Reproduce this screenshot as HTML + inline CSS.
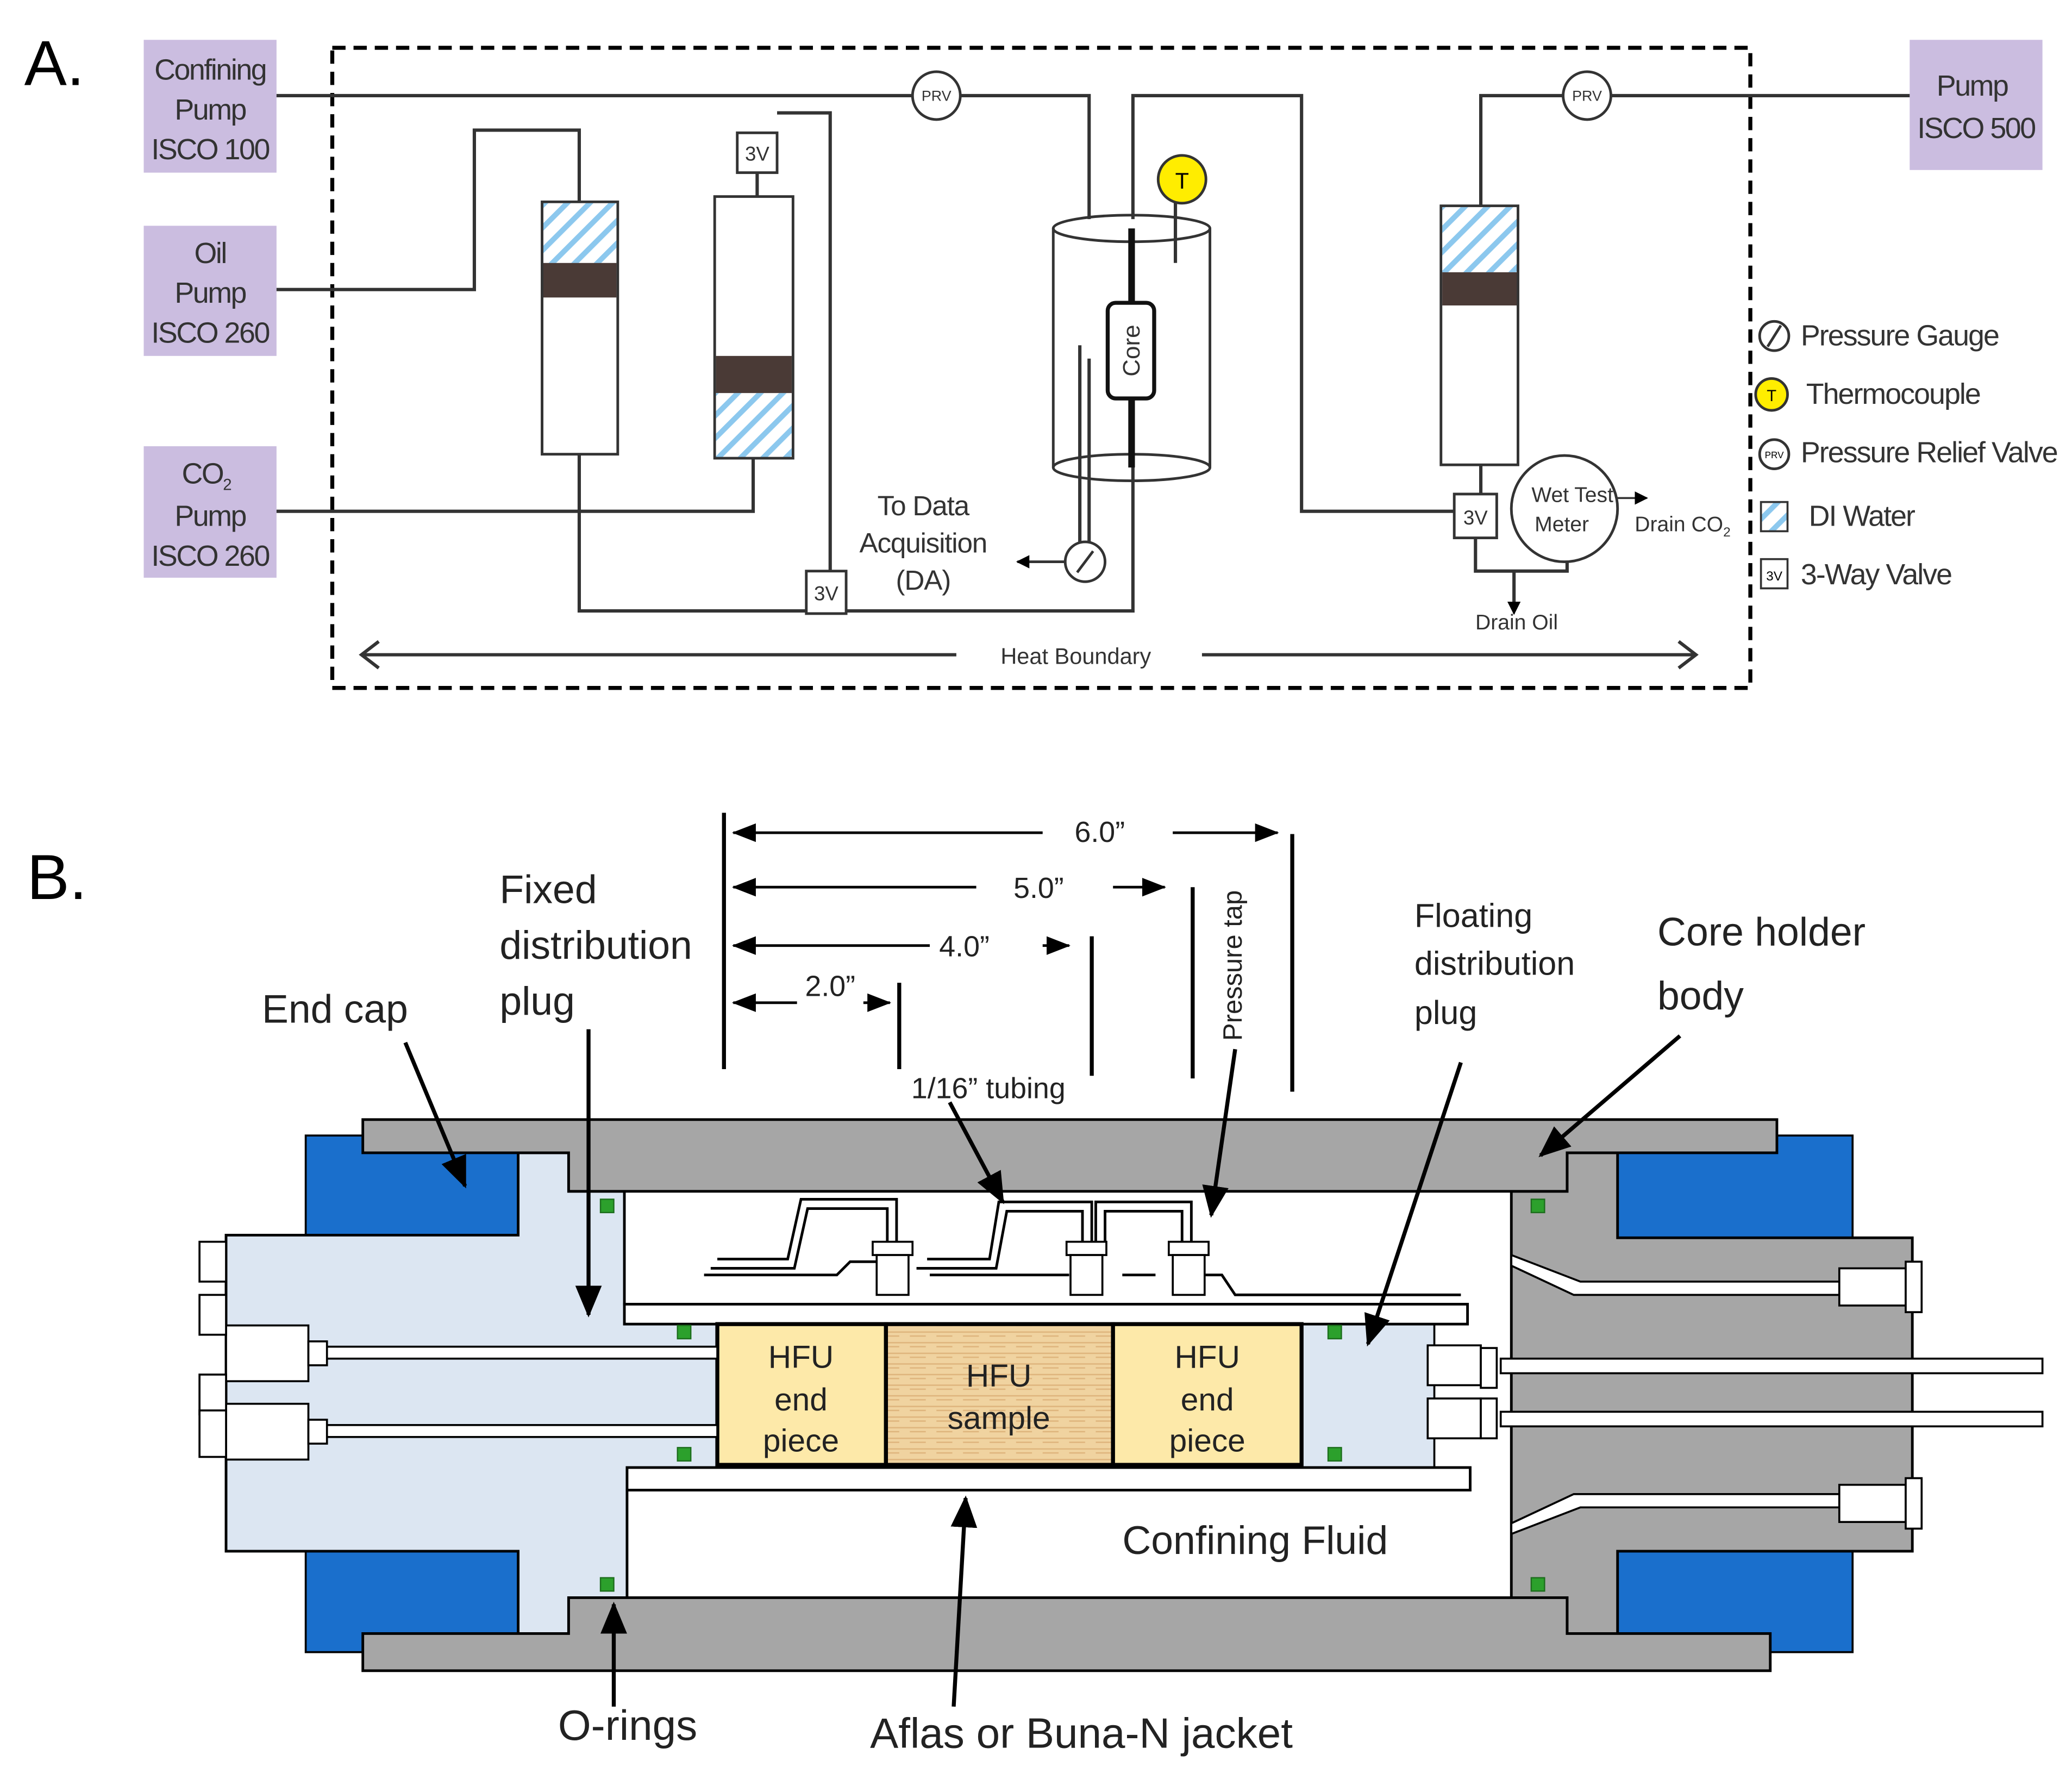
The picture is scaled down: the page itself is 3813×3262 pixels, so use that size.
<!DOCTYPE html>
<html><head><meta charset="utf-8"><style>
html,body{margin:0;padding:0;background:#fff;}
svg{display:block;}
text{font-family:"Liberation Sans",sans-serif;}
</style></head><body>
<svg width="3813" height="3262" viewBox="0 0 1560 1335" xmlns="http://www.w3.org/2000/svg">
<defs>
<pattern id="hat" width="12" height="12" patternUnits="userSpaceOnUse" patternTransform="rotate(-45)">
<rect width="12" height="12" fill="#fff"/><rect width="12" height="4" fill="#8cc8ee"/></pattern>
<pattern id="wood" width="20" height="8" patternUnits="userSpaceOnUse">
<rect width="20" height="8" fill="#f0d3a0"/><path d="M0 3h20M5 6h12" stroke="#deb47c" stroke-width="1"/></pattern>
<marker id="ah" markerWidth="10" markerHeight="10" refX="9" refY="5" orient="auto" markerUnits="userSpaceOnUse">
<path d="M0,0 L10,5 L0,10z" fill="#000"/></marker>
<marker id="ab" markerWidth="24" markerHeight="20" refX="22" refY="10" orient="auto" markerUnits="userSpaceOnUse">
<path d="M0,0 L24,10 L0,20z" fill="#000"/></marker>
<marker id="ab2" markerWidth="18" markerHeight="14" refX="17" refY="7" orient="auto" markerUnits="userSpaceOnUse">
<path d="M0,0 L18,7 L0,14z" fill="#000"/></marker>
</defs>

<!-- ===== A ===== -->
<text x="18" y="64" font-size="48">A.</text>
<g fill="#cbbde0">
<rect x="108" y="30" width="100" height="100"/><rect x="108" y="170" width="100" height="98"/>
<rect x="108" y="336" width="100" height="99"/><rect x="1438" y="30" width="100" height="98"/>
</g>
<g font-size="22" text-anchor="middle" fill="#333" letter-spacing="-1">
<text x="158" y="60">Confining</text><text x="158" y="90">Pump</text><text x="158" y="120">ISCO 100</text>
<text x="158" y="198">Oil</text><text x="158" y="228">Pump</text><text x="158" y="258">ISCO 260</text>
<text x="155" y="364">CO<tspan font-size="12" dy="5">2</tspan></text><text x="158" y="396">Pump</text><text x="158" y="426">ISCO 260</text>
<text x="1485" y="72">Pump</text><text x="1488" y="104">ISCO 500</text>
</g>
<rect x="250" y="36" width="1068" height="482" fill="none" stroke="#000" stroke-width="3" stroke-dasharray="10,6"/>
<g fill="none" stroke="#333" stroke-width="2.5">
<path d="M208 72H820V165"/>
<path d="M853 165V72H980V385H1095"/>
<path d="M1438 72H1115V155"/>
<path d="M208 218H357V98H436V152"/>
<path d="M436 342V460H853V305"/>
<path d="M570 130V148"/>
<path d="M585 85H625V430"/>
<path d="M208 385H567V345"/>
<path d="M885 150V198"/>
<path d="M813 260V408M820 270V408"/>
<path d="M1115 350V372M1111 405V430H1180V422"/>
<path d="M1140 430V455"/>
</g>
<!-- PRVs -->
<g fill="#fff" stroke="#333" stroke-width="2">
<circle cx="705" cy="72" r="18"/><circle cx="1195" cy="72" r="18"/></g>
<g font-size="11" text-anchor="middle" fill="#333"><text x="705" y="76">PRV</text><text x="1195" y="76">PRV</text></g>
<!-- cylinders -->
<rect x="408" y="152" width="57" height="190" fill="#fff" stroke="#333" stroke-width="2"/>
<rect x="409" y="153" width="55" height="45" fill="url(#hat)"/>
<rect x="409" y="198" width="55" height="26" fill="#4a3a36"/>
<rect x="538" y="148" width="59" height="197" fill="#fff" stroke="#333" stroke-width="2"/>
<rect x="539" y="268" width="57" height="28" fill="#4a3a36"/>
<rect x="539" y="296" width="57" height="48" fill="url(#hat)"/>
<rect x="1085" y="155" width="58" height="195" fill="#fff" stroke="#333" stroke-width="2"/>
<rect x="1086" y="156" width="56" height="49" fill="url(#hat)"/>
<rect x="1086" y="205" width="56" height="25" fill="#4a3a36"/>
<!-- 3V boxes -->
<g fill="#fff" stroke="#333" stroke-width="2">
<rect x="555" y="100" width="30" height="30"/><rect x="607" y="430" width="30" height="32"/><rect x="1095" y="372" width="32" height="33"/></g>
<g font-size="15" text-anchor="middle" fill="#333"><text x="570" y="121">3V</text><text x="622" y="452">3V</text><text x="1111" y="395">3V</text></g>
<!-- vessel -->
<g fill="none" stroke="#333" stroke-width="2">
<ellipse cx="852" cy="172" rx="59" ry="10"/><ellipse cx="852" cy="352" rx="59" ry="10"/>
<path d="M793 172V352M911 172V352"/></g>
<path d="M852 172V228M852 300V352" stroke="#111" stroke-width="5"/>
<rect x="834" y="228" width="35" height="72" rx="6" fill="#fff" stroke="#111" stroke-width="3"/>
<text transform="translate(858 264) rotate(-90)" font-size="18" text-anchor="middle" fill="#333">Core</text>
<circle cx="890" cy="135" r="18" fill="#ffed00" stroke="#333" stroke-width="2"/>
<text x="890" y="142" font-size="17" text-anchor="middle">T</text>
<circle cx="817" cy="423" r="15" fill="#fff" stroke="#333" stroke-width="2"/>
<path d="M811 431L823 415" stroke="#333" stroke-width="2"/>
<path d="M802 423H766" stroke="#333" stroke-width="2" marker-end="url(#ah)"/>
<g font-size="21" text-anchor="middle" fill="#333" letter-spacing="-0.5"><text x="695" y="388">To Data</text><text x="695" y="416">Acquisition</text><text x="695" y="444">(DA)</text></g>
<circle cx="1178" cy="383" r="40" fill="#fff" stroke="#333" stroke-width="2"/>
<g font-size="16" text-anchor="middle" fill="#333"><text x="1184" y="378">Wet Test</text><text x="1176" y="400">Meter</text>
<text x="1267" y="400">Drain CO<tspan font-size="10" dy="4">2</tspan></text><text x="1142" y="474">Drain Oil</text></g>
<path d="M1218 375H1240" stroke="#333" stroke-width="1.5" marker-end="url(#ah)"/>
<path d="M1140 440V462" stroke="#333" stroke-width="1.5" marker-end="url(#ah)"/>
<path d="M720 493H272M905 493H1277" stroke="#333" stroke-width="2.5" fill="none"/>
<path d="M285 483L272 493L285 503M1264 483L1277 493L1264 503" stroke="#333" stroke-width="2.5" fill="none"/>
<text x="810" y="500" font-size="17" text-anchor="middle" fill="#333">Heat Boundary</text>
<!-- legend -->
<g fill="#fff" stroke="#333" stroke-width="2">
<circle cx="1336" cy="253" r="11"/><circle cx="1336" cy="342" r="11"/></g>
<path d="M1331 261L1341 245" stroke="#333" stroke-width="2"/>
<circle cx="1334" cy="297" r="12" fill="#ffed00" stroke="#333" stroke-width="2"/>
<text x="1334" y="302" font-size="12" text-anchor="middle">T</text>
<text x="1336" y="345" font-size="7" text-anchor="middle">PRV</text>
<rect x="1326" y="378" width="20" height="22" fill="url(#hat)" stroke="#333" stroke-width="1.5"/>
<rect x="1326" y="421" width="20" height="22" fill="#fff" stroke="#333" stroke-width="1.5"/>
<text x="1336" y="437" font-size="10" text-anchor="middle">3V</text>
<g font-size="22" fill="#333" letter-spacing="-0.8">
<text x="1356" y="260">Pressure Gauge</text><text x="1360" y="304">Thermocouple</text>
<text x="1356" y="348">Pressure Relief Valve</text><text x="1362" y="396">DI Water</text><text x="1356" y="440">3-Way Valve</text></g>

<!-- ===== B ===== -->
<text x="20" y="677" font-size="48">B.</text>
<g stroke="#000" stroke-width="3" fill="none">
<path d="M545 612V805M677 740V805M822 705V810M898 668V812M973 628V822"/>
</g>
<g stroke="#000" stroke-width="2" fill="none">
<path d="M785 627H552" marker-end="url(#ab2)"/><path d="M883 627H962" marker-end="url(#ab2)"/>
<path d="M735 668H552" marker-end="url(#ab2)"/><path d="M838 668H877" marker-end="url(#ab2)"/>
<path d="M700 712H552" marker-end="url(#ab2)"/><path d="M785 712H805" marker-end="url(#ab2)"/>
<path d="M600 755H552" marker-end="url(#ab2)"/><path d="M650 755H670" marker-end="url(#ab2)"/>
</g>
<g font-size="22" text-anchor="middle" fill="#222">
<text x="828" y="634">6.0”</text><text x="782" y="676">5.0”</text><text x="726" y="720">4.0”</text><text x="625" y="750">2.0”</text></g>
<text transform="translate(935 727) rotate(-90)" font-size="20" text-anchor="middle" fill="#222">Pressure tap</text>
<g font-size="30" fill="#222">
<text x="376" y="680">Fixed</text><text x="376" y="722">distribution</text><text x="376" y="764">plug</text>
<text x="197" y="770">End cap</text>
<text x="1248" y="712">Core holder</text><text x="1248" y="760">body</text>
<text x="845" y="1170">Confining Fluid</text>
<text x="420" y="1310" font-size="32">O-rings</text>
<text x="655" y="1316" font-size="32">Aflas or Buna-N jacket</text></g>
<g font-size="25" fill="#222"><text x="1065" y="698">Floating</text><text x="1065" y="734">distribution</text><text x="1065" y="771">plug</text>
<text x="686" y="827" font-size="22">1/16” tubing</text></g>

<!-- blue caps -->
<g fill="#1a6fcc" stroke="#000" stroke-width="1.5">
<rect x="230" y="855" width="160" height="77"/><rect x="230" y="1168" width="160" height="76"/>
<rect x="1218" y="855" width="177" height="77"/><rect x="1218" y="1168" width="177" height="76"/></g>
<!-- left plug -->
<polygon points="390,868 428,868 428,897 470,897 470,982 540,982 540,1122 472,1122 472,1203 428,1203 428,1230 390,1230 390,1168 170,1168 170,930 390,930" fill="#dce6f2" stroke="#000" stroke-width="2"/>
<!-- right plug -->
<polygon points="1138,897 1180,897 1180,868 1218,868 1218,932 1440,932 1440,1168 1218,1168 1218,1230 1180,1230 1180,1203 1138,1203" fill="#a6a6a6" stroke="#000" stroke-width="2"/>
<!-- body -->
<polygon points="273,843 1338,843 1338,868 1180,868 1180,897 428,897 428,868 273,868" fill="#a6a6a6" stroke="#000" stroke-width="2"/>
<polygon points="428,1203 1180,1203 1180,1230 1333,1230 1333,1258 273,1258 273,1230 428,1230" fill="#a6a6a6" stroke="#000" stroke-width="2"/>
<rect x="980" y="997" width="100" height="108" fill="#dce6f2" stroke="#000" stroke-width="1.5"/>
<!-- jacket -->
<rect x="470" y="982" width="635" height="15" fill="#fff" stroke="#000" stroke-width="2"/>
<rect x="472" y="1105" width="635" height="17" fill="#fff" stroke="#000" stroke-width="2"/>
<!-- core -->
<rect x="540" y="997" width="127" height="106" fill="#fde9a9" stroke="#000" stroke-width="3"/>
<rect x="667" y="997" width="171" height="106" fill="url(#wood)" stroke="#000" stroke-width="3"/>
<rect x="838" y="997" width="142" height="106" fill="#fde9a9" stroke="#000" stroke-width="3"/>
<g font-size="24" text-anchor="middle" fill="#222">
<text x="603" y="1030">HFU</text><text x="603" y="1062">end</text><text x="603" y="1093">piece</text>
<text x="752" y="1044">HFU</text><text x="752" y="1076">sample</text>
<text x="909" y="1030">HFU</text><text x="909" y="1062">end</text><text x="909" y="1093">piece</text></g>
<!-- tubes left -->
<g fill="#fff" stroke="#000" stroke-width="1.5">
<rect x="240" y="1014" width="300" height="9"/><rect x="240" y="1073" width="300" height="9"/>
<rect x="170" y="998" width="62" height="42"/><rect x="170" y="1057" width="62" height="42"/>
<rect x="232" y="1010" width="14" height="18"/><rect x="232" y="1069" width="14" height="18"/>
<rect x="150" y="935" width="20" height="30"/><rect x="150" y="975" width="20" height="30"/><rect x="150" y="1035" width="20" height="30"/><rect x="150" y="1062" width="20" height="35"/>
<!-- right tubes -->
<rect x="1130" y="1023" width="408" height="11"/><rect x="1130" y="1063" width="408" height="11"/>
<rect x="1075" y="1013" width="40" height="30"/><rect x="1075" y="1053" width="40" height="30"/>
<rect x="1115" y="1015" width="12" height="30"/><rect x="1115" y="1053" width="12" height="30"/>
<polygon points="1138,945 1138,953 1185,975 1385,975 1385,965 1190,965"/>
<polygon points="1138,1155 1138,1147 1185,1125 1385,1125 1385,1135 1190,1135"/>
<rect x="1385" y="955" width="50" height="28"/><rect x="1385" y="1118" width="50" height="28"/>
<rect x="1435" y="950" width="12" height="38"/><rect x="1435" y="1113" width="12" height="38"/>
</g>
<!-- pressure tap tubing -->
<g fill="none" stroke="#000" stroke-width="2">
<path d="M535 955H598L608 910H668V935"/><path d="M540 948H593L603 903H675V935"/>
<path d="M690 955H750L758 912H815V935"/><path d="M698 948H745L752 905H822V935"/>
<path d="M832 935V912H890V935"/><path d="M825 935V905H897V935"/>
<path d="M530 960H630L640 950H660M700 960H790M790 960H805M845 960H870M905 960H920L930 975H1100"/>
</g>
<g fill="#fff" stroke="#000" stroke-width="1.5">
<rect x="657" y="935" width="30" height="10"/><rect x="660" y="945" width="24" height="30"/>
<rect x="803" y="935" width="30" height="10"/><rect x="806" y="945" width="24" height="30"/>
<rect x="880" y="935" width="30" height="10"/><rect x="883" y="945" width="24" height="30"/></g>
<!-- o-rings -->
<g fill="#2ca02c" stroke="#1d6e1d" stroke-width="1">
<rect x="452" y="903" width="10" height="10"/><rect x="510" y="998" width="10" height="10"/><rect x="510" y="1090" width="10" height="10"/><rect x="452" y="1188" width="10" height="10"/>
<rect x="1000" y="998" width="10" height="10"/><rect x="1000" y="1090" width="10" height="10"/><rect x="1153" y="903" width="10" height="10"/><rect x="1153" y="1188" width="10" height="10"/></g>
<!-- callout arrows -->
<g stroke="#000" stroke-width="3" fill="none">
<path d="M305 785L350 893" marker-end="url(#ab)"/>
<path d="M443 775V990" marker-end="url(#ab)"/>
<path d="M715 830L755 905" marker-end="url(#ab)"/>
<path d="M930 790L912 915" marker-end="url(#ab)"/>
<path d="M1100 800L1030 1012" marker-end="url(#ab)"/>
<path d="M1265 780L1160 870" marker-end="url(#ab)"/>
<path d="M462 1285V1208" marker-end="url(#ab)"/>
<path d="M718 1285L727 1128" marker-end="url(#ab)"/>
</g>
</svg>
</body></html>
